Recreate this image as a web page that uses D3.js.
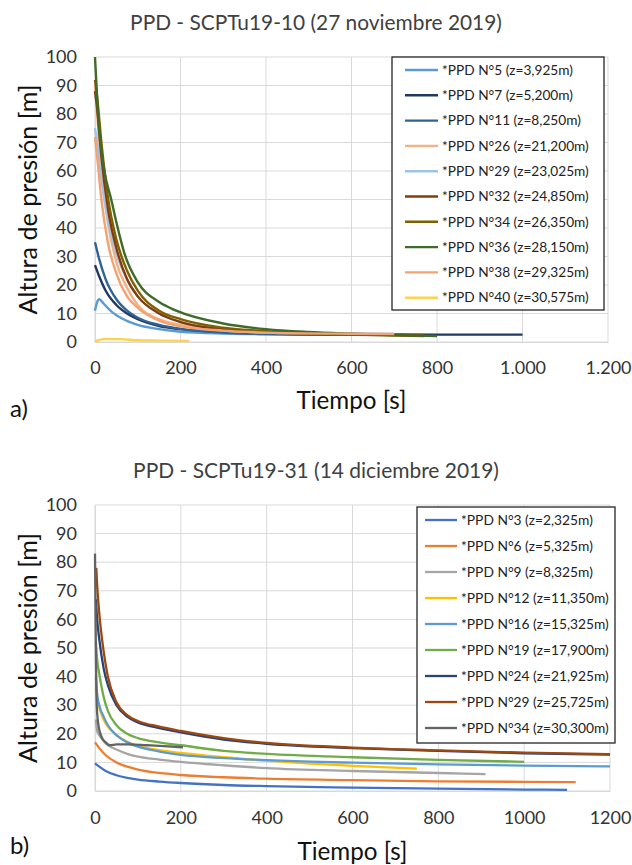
<!DOCTYPE html>
<html><head><meta charset="utf-8">
<script src="https://cdn.jsdelivr.net/npm/d3@7"></script>
<style>html,body{margin:0;padding:0;background:#fff;} svg{display:block;font-family:Lato,"Open Sans",sans-serif;}</style>
</head><body>
<svg id="c" width="632" height="865"></svg>
<script>
// ---------- Data: chart a) PPD - SCPTu19-10 ----------
const titleA = "PPD - SCPTu19-10 (27 noviembre 2019)";
const namesA = ["*PPD N°5 (z=3,925m)","*PPD N°7 (z=5,200m)","*PPD N°11 (z=8,250m)","*PPD N°26 (z=21,200m)","*PPD N°29 (z=23,025m)","*PPD N°32 (z=24,850m)","*PPD N°34 (z=26,350m)","*PPD N°36 (z=28,150m)","*PPD N°38 (z=29,325m)","*PPD N°40 (z=30,575m)"];
const a_n5  = [[0,11],[5,14],[10,15],[20,13.5],[40,10.5],[60,8.5],[100,6],[150,4.5],[200,3.6],[300,3],[450,2.7],[600,2.6]];
const a_n7  = [[0,27],[10,23],[25,18],[50,13],[75,10],[100,8],[150,5.6],[200,4.5],[300,3.5],[400,3],[600,2.7],[800,2.6],[1000,2.6]];
const a_n11 = [[0,35],[10,29],[25,22],[50,15],[75,11],[100,8.5],[150,6],[200,4.6],[300,3.3],[400,2.8],[600,2.5],[700,2.4]];
const a_n26 = [[0,90],[5,80],[15,60],[30,42],[50,28],[75,19],[100,13],[150,8],[200,6],[300,4],[400,3.3],[600,2.8],[700,2.7]];
const a_n29 = [[0,75],[5,70],[15,57],[30,43],[50,31],[75,22],[100,16],[150,10],[200,7],[300,4.5],[400,3.5],[600,3],[700,2.8]];
const a_n32 = [[0,88],[5,82],[15,65],[30,47],[50,33],[75,22],[100,16],[150,10],[200,7],[300,4.5],[400,3.5],[600,2.7],[770,2.3]];
const a_n34 = [[0,92],[5,86],[15,70],[30,51],[50,36],[75,25],[100,18],[150,11],[200,8],[300,5],[400,3.8],[600,2.6],[770,2.1]];
const a_n36 = [[0,100],[7,80],[22,60],[38,50],[50,42],[69,31],[100,21],[150,14],[190,11],[300,6.5],[400,4.5],[500,3.5],[600,2.9],[700,2.4],[800,2.1]];
const a_n38 = [[0,72],[5,65],[15,50],[30,35],[50,24],[75,16],[100,12],[150,7.5],[200,5.5],[300,4],[400,3.3],[600,2.9],[700,2.8]];
const a_n40 = [[0,0],[5,0.5],[20,1],[60,1],[100,0.6],[150,0.5],[220,0.4]];
const seriesA = [a_n5,a_n7,a_n11,a_n26,a_n29,a_n32,a_n34,a_n36,a_n38,a_n40];
const colorsA = ["#5b9bd5","#203864","#2e6496","#f4b183","#9dc3e6","#843c0c","#7f6000","#3e6b2a","#f1a373","#ffd24d"];
const xTicksA = [0,200,400,600,800,1000,1200];
const yTicks = [0,10,20,30,40,50,60,70,80,90,100];

// ---------- Data: chart b) PPD - SCPTu19-31 ----------
const titleB = "PPD - SCPTu19-31 (14 diciembre 2019)";
const namesB = ["*PPD N°3 (z=2,325m)","*PPD N°6 (z=5,325m)","*PPD N°9 (z=8,325m)","*PPD N°12 (z=11,350m)","*PPD N°16 (z=15,325m)","*PPD N°19 (z=17,900m)","*PPD N°24 (z=21,925m)","*PPD N°29 (z=25,725m)","*PPD N°34 (z=30,300m)"];
const b_n3  = [[0,9.7],[10,8.5],[25,7],[50,5.5],[75,4.6],[100,4],[150,3.3],[200,2.8],[300,2.1],[400,1.7],[600,1.2],[800,0.8],[1000,0.5],[1100,0.4]];
const b_n6  = [[0,17],[10,15],[25,12.5],[50,10],[75,8.5],[100,7.5],[150,6.3],[200,5.6],[300,4.8],[400,4.3],[600,3.8],[800,3.4],[1000,3.2],[1120,3.1]];
const b_n9  = [[2,25],[5,21],[10,19.5],[20,17.5],[30,16],[50,14.5],[75,13],[100,12],[150,11],[200,10.2],[300,9],[400,8],[600,7],[800,6.3],[910,5.9]];
const b_n12 = [[2,36],[5,32],[10,29],[20,25],[30,22.5],[50,19.5],[75,17.2],[100,15.8],[150,14.3],[200,13.3],[300,11.8],[400,10.6],[500,9.6],[600,8.8],[750,7.8]];
const b_n16 = [[2,40],[5,34],[10,30],[20,26],[30,23],[50,19.5],[75,17],[100,15.5],[150,13.8],[200,12.6],[300,11.5],[400,10.8],[500,10.3],[600,9.9],[800,9.3],[1000,8.9],[1200,8.6]];
const b_n19 = [[2,52],[5,46],[10,41],[20,33],[30,28],[50,23],[75,20],[100,18.5],[150,17],[200,16],[300,14],[400,13],[600,11.8],[800,10.9],[1000,10.2]];
const b_n24 = [[2,67],[5,60],[10,53],[20,43],[30,37],[50,30],[75,26],[100,24],[150,22],[200,20.5],[300,18],[400,16.5],[600,15],[800,14],[1000,13.2],[1200,12.7]];
const b_n29 = [[3,78],[5,72],[10,62],[20,49],[30,40],[50,31],[75,26.5],[100,24.5],[150,22.5],[200,21],[300,18.5],[400,16.8],[600,15.2],[800,14.2],[1000,13.4],[1200,12.9]];
const b_n34 = [[0,83],[2,50],[4,30],[8,23],[15,19],[25,17],[35,16],[50,16.3],[80,16.3],[120,16],[160,15.7],[205,15.3]];
const seriesB = [b_n3,b_n6,b_n9,b_n12,b_n16,b_n19,b_n24,b_n29,b_n34];
const colorsB = ["#4472c4","#ed7d31","#a5a5a5","#ffc000","#5b9bd5","#70ad47","#264478","#9e480e","#636363"];
const xTicksB = [0,200,400,600,800,1000,1200];

// ---------- Drawing ----------
const svg = d3.select("#c");
const esLocale = d3.formatLocale({decimal:",", thousands:".", grouping:[3], currency:["",""]});

// size a text so its rendered width matches a target width
function fitSize(str, base, target){
  const t = svg.append("text").attr("font-size",base).attr("font-family","Lato").text(str);
  const w = t.node().getComputedTextLength();
  t.remove();
  return base*target/w;
}

function drawChart(cfg){
  const g = svg.append("g");
  const x = d3.scaleLinear().domain([0,1200]).range([cfg.x0, cfg.x1]);
  const y = d3.scaleLinear().domain([0,100]).range([cfg.y0, cfg.y1]);
  g.append("g").selectAll("line").data(yTicks).join("line")
    .attr("x1",cfg.x0).attr("x2",cfg.x1).attr("y1",d=>y(d)).attr("y2",d=>y(d))
    .attr("stroke","#d9d9d9").attr("stroke-width",1);
  g.append("g").selectAll("line").data(cfg.xTicks).join("line")
    .attr("y1",cfg.y0).attr("y2",cfg.y1).attr("x1",d=>x(d)).attr("x2",d=>x(d))
    .attr("stroke","#d9d9d9").attr("stroke-width",1);
  const ya = g.append("g").attr("transform",`translate(${cfg.x0},0)`)
    .call(d3.axisLeft(y).tickValues(yTicks).tickSize(0).tickPadding(18));
  ya.select(".domain").attr("stroke","#d9d9d9");
  ya.selectAll("text").attr("font-size",18).attr("fill","#333").attr("font-family","Lato");
  const xa = g.append("g").attr("transform",`translate(0,${cfg.y0})`)
    .call(d3.axisBottom(x).tickValues(cfg.xTicks).tickSize(0).tickPadding(cfg.tickPad).tickFormat(cfg.fmt));
  xa.select(".domain").attr("stroke","#d9d9d9");
  xa.selectAll("text").attr("font-size",18).attr("fill","#333").attr("font-family","Lato");
  const line = d3.line().x(d=>x(d[0])).y(d=>y(d[1])).curve(d3.curveMonotoneX);
  g.append("g").selectAll("path").data(cfg.series).join("path")
    .attr("d",line).attr("fill","none")
    .attr("stroke",(d,i)=>cfg.colors[i]).attr("stroke-width",cfg.lw).attr("stroke-linejoin","round");
  // legend
  const lg = g.append("g");
  lg.append("rect").attr("x",cfg.lx0).attr("y",cfg.ly0).attr("width",cfg.lx1-cfg.lx0).attr("height",cfg.ly1-cfg.ly0)
    .attr("fill","#fff").attr("stroke","#262626").attr("stroke-width",1.3);
  const lfs = fitSize(cfg.names[0], 13, cfg.lw0);
  const it = lg.selectAll("g").data(cfg.names).join("g")
    .attr("transform",(d,i)=>`translate(0,${cfg.ly + i*cfg.lstep})`);
  it.append("line").attr("x1",cfg.lsx0).attr("x2",cfg.lsx1).attr("y1",0).attr("y2",0)
    .attr("stroke",(d,i)=>cfg.colors[i]).attr("stroke-width",cfg.lw);
  it.append("text").attr("x",cfg.ltx).attr("y",0).attr("dy","0.35em").text(d=>d)
    .attr("font-size",lfs).attr("fill","#222").attr("font-family","Lato");
  // titles
  svg.append("text").attr("x",316).attr("y",cfg.ty).attr("text-anchor","middle")
    .attr("font-size",fitSize(cfg.title,19,cfg.tw)).attr("fill","#404040").text(cfg.title);
  svg.append("text").attr("transform",`translate(${cfg.ytx},${(cfg.y0+cfg.y1)/2}) rotate(-90)`).attr("text-anchor","middle")
    .attr("dy","0.35em").attr("font-size",fitSize("Altura de presión [m]",22,230)).attr("fill","#111").text("Altura de presión [m]");
  svg.append("text").attr("x",(cfg.x0+cfg.x1)/2).attr("y",cfg.xty).attr("text-anchor","middle").attr("dy","0.35em")
    .attr("font-size",fitSize("Tiempo [s]",22,110)).attr("fill","#111").text("Tiempo [s]");
  svg.append("text").attr("x",10).attr("y",cfg.py).attr("dy","0.35em")
    .attr("font-size",24).attr("fill","#111").text(cfg.panel);
}

drawChart({x0:95,x1:608,y0:342,y1:57,xTicks:xTicksA,fmt:esLocale.format(",d"),tickPad:19,
  series:seriesA,colors:colorsA,names:namesA,lw:2.4,
  lx0:392,lx1:604,ly0:57,ly1:310,ly:70,lstep:25.3,lsx0:405,lsx1:438,ltx:442,lw0:131,
  title:titleA,tw:372,ty:30,ytx:28,xty:401,panel:"a)",py:409});
drawChart({x0:95,x1:610,y0:791,y1:505,xTicks:xTicksB,fmt:d3.format("d"),tickPad:20,
  series:seriesB,colors:colorsB,names:namesB,lw:2.3,
  lx0:417,lx1:615,ly0:507,ly1:743,ly:520,lstep:26,lsx0:425,lsx1:457,ltx:461,lw0:132,
  title:titleB,tw:366,ty:478,ytx:28,xty:852,panel:"b)",py:846});
</script>
</body></html>
